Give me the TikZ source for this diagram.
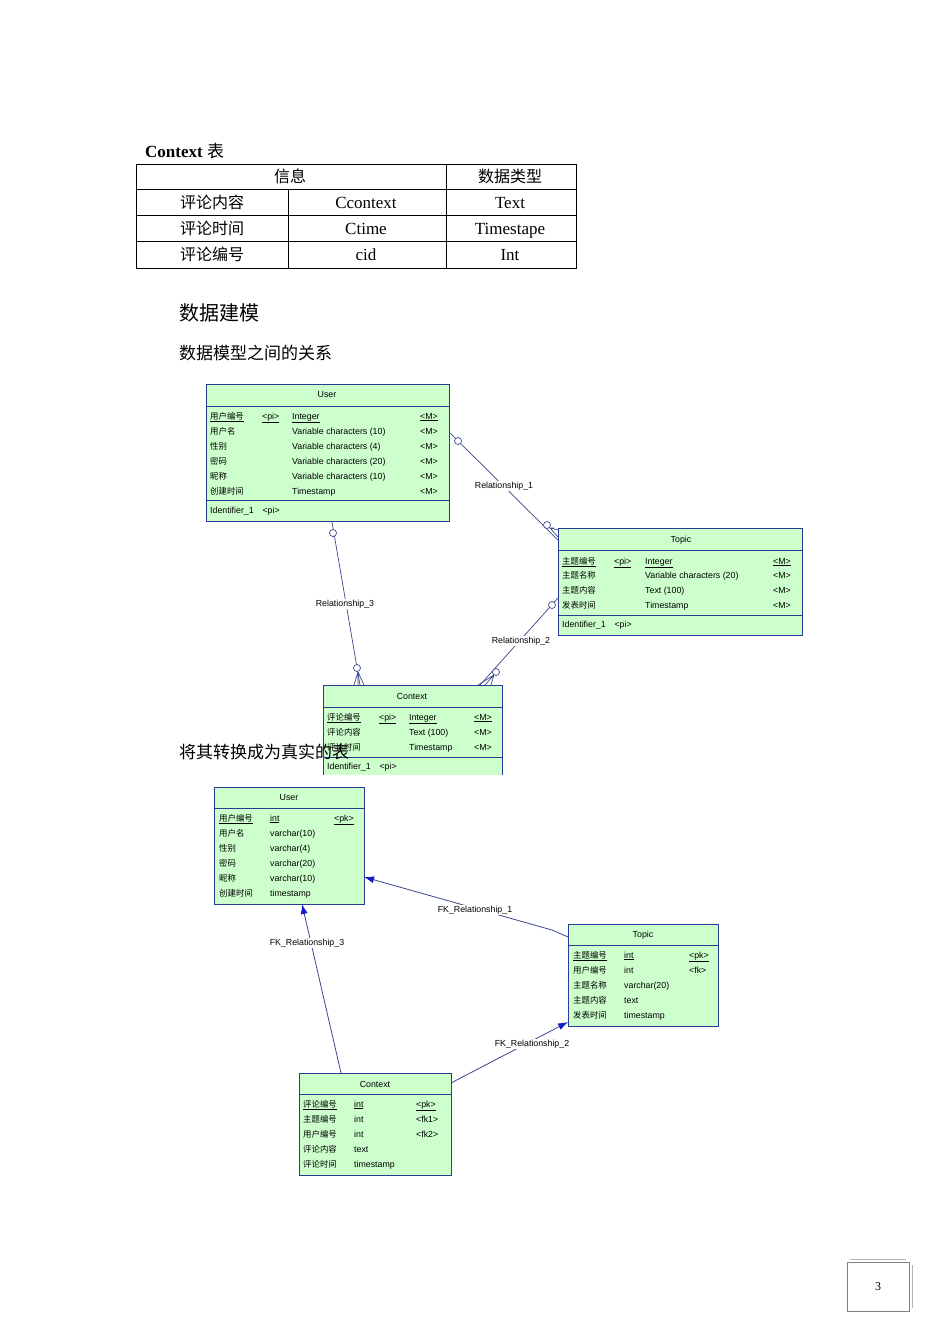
\documentclass[tikz,border=0pt]{standalone}
\usepackage{fontspec}
\setmainfont{Liberation Serif}
\newfontfamily\cjk{Noto Sans CJK SC}
\newfontfamily\dsans{Liberation Sans}
\usetikzlibrary{arrows.meta}
\definecolor{entg}{RGB}{204,255,204}
\definecolor{entb}{RGB}{40,60,150}
\definecolor{reln}{RGB}{60,70,140}
\definecolor{arrb}{RGB}{20,30,200}
\begin{document}
\begin{tikzpicture}[x=1pt,y=-1pt,
  box/.style={draw=entb,fill=entg,line width=1pt,inner sep=0,anchor=north west},
  sep/.style={draw=entb,line width=0.8pt},
  atx/.style={font=\dsans\fontsize{8.8}{9}\selectfont,anchor=base west,inner sep=0,yshift=-3.2pt},
  ac/.style={font=\dsans\fontsize{8.8}{9}\selectfont,anchor=center,inner sep=0},
  zh/.style={font=\cjk\fontsize{8.4}{9}\selectfont,anchor=base west,inner sep=0,yshift=-3.2pt},
  rel/.style={draw=reln,line width=0.7pt},
  circ/.style={draw=reln,fill=white,circle,inner sep=0,minimum size=7pt,line width=0.7pt},
  rl/.style={font=\dsans\fontsize{8.8}{9}\selectfont,fill=white,inner sep=1pt},
  fk/.style={draw=reln,line width=0.8pt,-{Latex[length=10pt,width=7pt,color=arrb]}},
  tb/.style={font=\fontsize{17}{18}\selectfont,inner sep=0,anchor=base,yshift=-6pt},
  tz/.style={font=\cjk\fontsize{16}{18}\selectfont,inner sep=0,anchor=base,yshift=-6pt}]
\useasboundingbox (0,0) rectangle (950,1344);
\fill[white] (0,0) rectangle (950,1344);
% ---------------- top table
\node[anchor=west,inner sep=0,font=\bfseries\fontsize{17}{18}\selectfont] (ctit) at (145,151) {Context {\cjk\mdseries 表}};
\draw[line width=0.8pt] (136,164) rectangle (576,268);
\foreach \yy in {189,215,241} \draw[line width=0.8pt] (136,\yy) -- (576,\yy);
\draw[line width=0.8pt] (446,164) -- (446,268);
\draw[line width=0.8pt] (288,189) -- (288,268);
\node[tz] (h1) at (290,176) {信息};
\node[tz] (h2) at (510,176) {数据类型};
\node[tz] (r1a) at (212,202) {评论内容};
\node[tb] (r1b) at (366,202) {Ccontext};
\node[tb] (r1c) at (510,202) {Text};
\node[tz] (r2a) at (212,228) {评论时间};
\node[tb] (r2b) at (366,228) {Ctime};
\node[tb] (r2c) at (510,228) {Timestape};
\node[tz] (r3a) at (212,254) {评论编号};
\node[tb] (r3b) at (366,254) {cid};
\node[tb] (r3c) at (510,254) {Int};
\node[anchor=west,inner sep=0,font=\cjk\fontsize{20}{22}\selectfont] (t1) at (179,313) {数据建模};
\node[anchor=west,inner sep=0,font=\cjk\fontsize{17}{19}\selectfont] (t2) at (179,353) {数据模型之间的关系};
% ---------------- diagram 1
\node[box,minimum width=243,minimum height=137] (u1) at (206,384) {};
\draw[sep] (206,406) -- (449,406); \draw[sep] (206,500) -- (449,500);
\node[ac] (u1t) at (327,395) {User};
\foreach \n/\yy/\a/\t in {1/416/用户编号/Integer,2/431/用户名/Variable characters (10),3/446/性别/Variable characters (4),4/461/密码/Variable characters (20),5/476/昵称/Variable characters (10),6/491/创建时间/Timestamp}{
  \node[zh] (u1a\n) at (210,\yy) {\ifnum\n=1 \underline{\a}\else\a\fi};
  \node[atx] (u1b\n) at (292,\yy) {\ifnum\n=1 \underline{\t}\else\t\fi};
  \node[atx] (u1c\n) at (420,\yy) {\ifnum\n=1 \underline{<M>}\else <M>\fi};}
\node[atx] (u1p) at (262,416) {\underline{<pi>}};
\node[atx] (u1i) at (210,510) {Identifier\_1\quad <pi>};

\node[box,minimum width=244,minimum height=107] (t1b) at (558,528) {};
\draw[sep] (558,550) -- (802,550); \draw[sep] (558,615) -- (802,615);
\node[ac] (t1t) at (681,540) {Topic};
\foreach \n/\yy/\a/\t in {1/561/主题编号/Integer,2/575/主题名称/Variable characters (20),3/590/主题内容/Text (100),4/605/发表时间/Timestamp}{
  \node[zh] (t1a\n) at (562,\yy) {\ifnum\n=1 \underline{\a}\else\a\fi};
  \node[atx] (t1b\n) at (645,\yy) {\ifnum\n=1 \underline{\t}\else\t\fi};
  \node[atx] (t1c\n) at (773,\yy) {\ifnum\n=1 \underline{<M>}\else <M>\fi};}
\node[atx] (t1p) at (614,561) {\underline{<pi>}};
\node[atx] (t1i) at (562,624) {Identifier\_1\quad <pi>};

\fill[entg] (323,685) rectangle (502,775);
\draw[entb,line width=1pt] (323,775) -- (323,685) -- (502,685) -- (502,775);
\draw[sep] (323,707) -- (502,707); \draw[sep] (323,757) -- (502,757);
\node[ac] (c1t) at (412,696) {Context};
\foreach \n/\yy/\a/\t in {1/717/评论编号/Integer,2/732/评论内容/Text (100),3/747/评论时间/Timestamp}{
  \node[zh] (c1a\n) at (327,\yy) {\ifnum\n=1 \underline{\a}\else\a\fi};
  \node[atx] (c1b\n) at (409,\yy) {\ifnum\n=1 \underline{\t}\else\t\fi};
  \node[atx] (c1c\n) at (474,\yy) {\ifnum\n=1 \underline{<M>}\else <M>\fi};}
\node[atx] (c1p) at (379,717) {\underline{<pi>}};
\node[atx] (c1i) at (327,766) {Identifier\_1\quad <pi>};

% relationships
\coordinate (r1s) at (450,433); \coordinate (r1e) at (558,540);
\coordinate (r3s) at (332,522); \coordinate (r3e) at (360,685);
\coordinate (r2s) at (558,598); \coordinate (r2e) at (480,685);
\draw[rel] (r1s) -- (r1e);
\draw[rel] (r3s) -- (r3e);
\draw[rel] (r2s) -- (r2e);
\node[rl] (r1l) at (504,486) {Relationship\_1};
\node[rl] (r3l) at (345,604) {Relationship\_3};
\node[rl] (r2l) at (521,641) {Relationship\_2};
% crow feet
\draw[rel] (550,528) -- (558,530) (550,528) -- (558,537) (550,528) -- (554,528);
\draw[rel] (358,672) -- (354,685) (358,672) -- (358,685) (358,672) -- (364,685);
\draw[rel] (494,675) -- (478,685) (494,675) -- (485,685) (494,675) -- (491,685);
\node[circ] (o1) at (458,441) {};
\node[circ] (o2) at (547,525) {};
\node[circ] (o3) at (333,533) {};
\node[circ] (o4) at (357,668) {};
\node[circ] (o5) at (552,605) {};
\node[circ] (o6) at (496,672) {};

\node[anchor=west,inner sep=0,font=\cjk\fontsize{17}{19}\selectfont] (t3) at (179,752) {将其转换成为真实的表};

% ---------------- diagram 2
\node[box,minimum width=150,minimum height=117] (u2) at (214,787) {};
\draw[sep] (214,808) -- (364,808);
\node[ac] (u2t) at (289,798) {User};
\foreach \n/\yy/\a/\t in {1/818/用户编号/int,2/833/用户名/varchar(10),3/848/性别/varchar(4),4/863/密码/varchar(20),5/878/昵称/varchar(10),6/893/创建时间/timestamp}{
  \node[zh] (u2a\n) at (219,\yy) {\ifnum\n=1 \underline{\a}\else\a\fi};
  \node[atx] (u2b\n) at (270,\yy) {\ifnum\n=1 \underline{\t}\else\t\fi};}
\node[atx] (u2k) at (334,818) {\underline{<pk>}};

\node[box,minimum width=150,minimum height=102] (t2b) at (568,924) {};
\draw[sep] (568,945) -- (718,945);
\node[ac] (t2t) at (643,935) {Topic};
\foreach \n/\yy/\a/\t in {1/955/主题编号/int,2/970/用户编号/int,3/985/主题名称/varchar(20),4/1000/主题内容/text,5/1015/发表时间/timestamp}{
  \node[zh] (t2a\n) at (573,\yy) {\ifnum\n=1 \underline{\a}\else\a\fi};
  \node[atx] (t2b\n) at (624,\yy) {\ifnum\n=1 \underline{\t}\else\t\fi};}
\node[atx] (t2k) at (689,955) {\underline{<pk>}};
\node[atx] (t2f) at (689,970) {<fk>};

\node[box,minimum width=152,minimum height=102] (c2) at (299,1073) {};
\draw[sep] (299,1094) -- (451,1094);
\node[ac] (c2t) at (375,1084) {Context};
\foreach \n/\yy/\a/\t in {1/1104/评论编号/int,2/1119/主题编号/int,3/1134/用户编号/int,4/1149/评论内容/text,5/1164/评论时间/timestamp}{
  \node[zh] (c2a\n) at (303,\yy) {\ifnum\n=1 \underline{\a}\else\a\fi};
  \node[atx] (c2b\n) at (354,\yy) {\ifnum\n=1 \underline{\t}\else\t\fi};}
\node[atx] (c2k) at (416,1104) {\underline{<pk>}};
\node[atx] (c2f1) at (416,1119) {<fk1>};
\node[atx] (c2f2) at (416,1134) {<fk2>};

\coordinate (f1s) at (568,937); \coordinate (f1m) at (552,930); \coordinate (f1e) at (364,877);
\coordinate (f3s) at (341,1073); \coordinate (f3e) at (302,904);
\coordinate (f2s) at (451,1083); \coordinate (f2e) at (568,1022);
\draw[fk] (f1s) -- (f1m) -- (f1e);
\draw[fk] (f3s) -- (f3e);
\draw[fk] (f2s) -- (f2e);
\node[rl] (f1l) at (475,910) {FK\_Relationship\_1};
\node[rl] (f3l) at (307,943) {FK\_Relationship\_3};
\node[rl] (f2l) at (532,1044) {FK\_Relationship\_2};

% page number
\draw[gray,line width=0.6pt] (847,1262) rectangle (909,1311);
\draw[gray!60,line width=0.4pt] (850,1259) -- (906,1259) (912,1265) -- (912,1308);
\node[inner sep=0,font=\fontsize{12}{13}\selectfont] (pg) at (878,1287) {3};
\end{tikzpicture}
\end{document}
